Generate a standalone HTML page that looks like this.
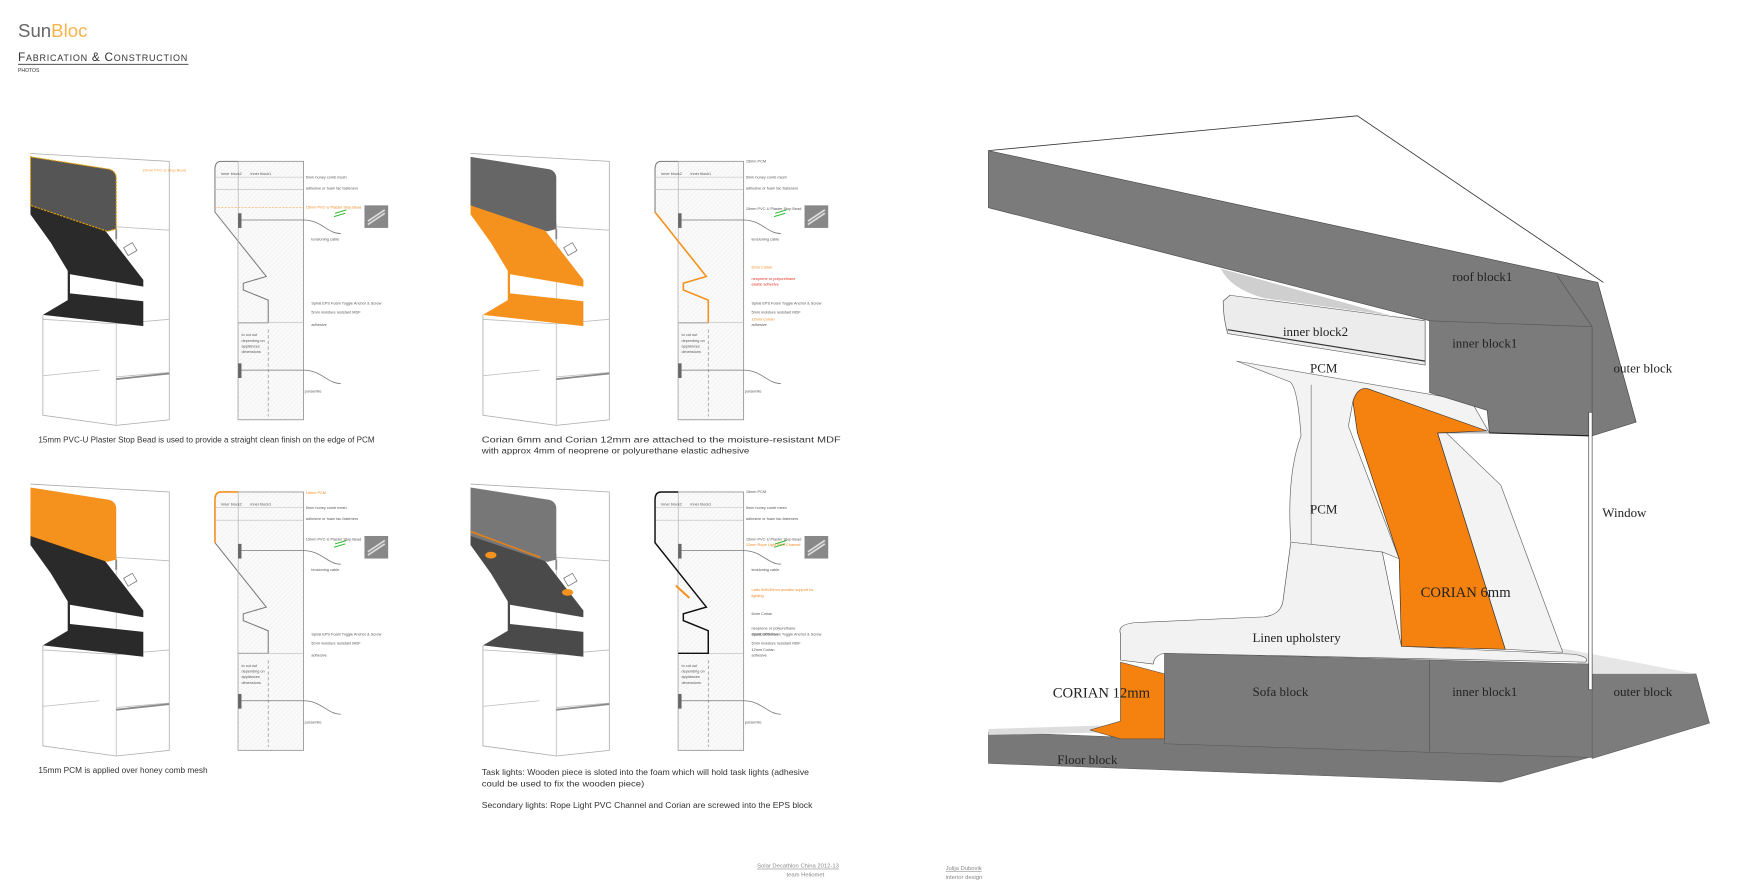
<!DOCTYPE html>
<html><head><meta charset="utf-8">
<style>
html,body{margin:0;padding:0;background:#fff;width:1758px;height:894px;overflow:hidden}
svg{display:block}
.s{font-family:"Liberation Sans",sans-serif}
.r{font-family:"Liberation Serif",serif;fill:#222}
</style></head><body>
<svg width="1758" height="894" viewBox="0 0 1558 792.3" preserveAspectRatio="none" xmlns="http://www.w3.org/2000/svg">
<defs>
<pattern id="hx" width="4" height="4" patternUnits="userSpaceOnUse"><rect width="4" height="4" fill="#fafafa"/><path d="M0 4L4 0" stroke="#e4e4e4" stroke-width="0.4"/></pattern>
<g id="box">
 <path d="M27 136 L150 143 L150 372 L103 377 L38 368 L38 279" fill="none" stroke="#aaa" stroke-width="0.7"/>
 <path d="M103 198 L103 377 M38 283 L103 287 L150 283 M38 333 L88 328 M103 334 L150 330 M88 200 L150 204" fill="none" stroke="#bbb" stroke-width="0.7"/>
 <path d="M103 203 L103 212 M103 336 L150 331" stroke="#888" stroke-width="1.6"/>
 <rect x="111" y="217" width="9" height="8" fill="none" stroke="#777" stroke-width="0.7" transform="rotate(-30 115 221)"/>
</g>
<g id="sec">
 <rect x="211" y="143" width="58" height="229" fill="url(#hx)" stroke="#999" stroke-width="0.8"/>
 <path d="M211 143 L196 143 Q190.5 143 190.5 150 L190.5 188 L236 245 L215.6 251 L215.6 257 L237.7 266 L237.7 286 L211 286" fill="url(#hx)" stroke="#777" stroke-width="0.9"/>
 <path d="M211 143 L211 372 M190 157 L269 157 M190 168 L269 168 M211 286 L269 286" stroke="#bbb" stroke-width="0.5" fill="none"/>
 <path d="M237.7 292 L237.7 369" stroke="#888" stroke-width="0.6" stroke-dasharray="3 2"/>
 <rect x="211" y="189" width="3" height="13" fill="#666"/>
 <rect x="211" y="322" width="3" height="13" fill="#666"/>
 <path d="M214 195 L269 195 C285 195 290 207 302 207 M214 328 L269 328 C285 328 290 340 302 340" stroke="#777" stroke-width="0.7" fill="none"/>
 <rect x="323" y="182" width="21" height="20" fill="#888"/>
 <path d="M326 196 L341 186 M326 199 L341 189" stroke="#ddd" stroke-width="1.5"/>
 <path d="M297 189 L307 186 M296 192 L306 189" stroke="#3b3" stroke-width="0.9"/>
 <g class="s" font-size="3.4" fill="#555">
  <text x="196" y="155">inner block2</text><text x="222" y="155">inner block1</text>
  <text x="271" y="158">5mm honey comb mesh</text>
  <text x="271" y="168">adhesive or foam tac fasteners</text>
  <text x="276" y="213">tensioning cable</text>
  <text x="276" y="270">Spiral EPS Foam Toggle Anchor &amp; Screw</text>
  <text x="276" y="278">5mm moisture resistant MDF</text>
  <text x="276" y="289">adhesive</text>
  <text x="214" y="298">to cut out</text><text x="214" y="303">depending on</text><text x="214" y="308">appliances</text><text x="214" y="313">dimensions</text>
  <text x="270" y="348">pursemite</text>
 </g>
</g>
</defs>

<!-- header -->
<text x="16" y="33" class="s" font-size="16.5" fill="#666">Sun<tspan fill="#f7b34a">Bloc</tspan></text>
<text x="16" y="54" class="s" font-size="10.5" fill="#333" textLength="150">F<tspan font-size="8">ABRICATION</tspan> &amp; C<tspan font-size="8">ONSTRUCTION</tspan></text>
<line x1="16" y1="57" x2="167" y2="57" stroke="#333" stroke-width="0.8"/>
<text x="16" y="64" class="s" font-size="4.5" fill="#333">PHOTOS</text>

<!-- Panel 1 -->
<g>
 <use href="#box"/>
 <path d="M27 173 L86 195 L127 248 L127 254 L62 243 L62 260 L127 267 L127 289 L38 279 L60 266 L60 240 L45 215 L27 190Z" fill="#2a2a2a"/>
 <path d="M27 139 L97 150 Q103 152 103 158 L103 203 L95 205 L27 182Z" fill="#555" stroke="#e8a000" stroke-width="1" stroke-dasharray="2 1"/>
 <text x="126" y="152" class="s" font-size="3.5" fill="#f0a040">15mm PVC-U Stop Bead</text>
 <use href="#sec"/>
 <line x1="190" y1="184" x2="269" y2="184" stroke="#f7a040" stroke-width="0.5" stroke-dasharray="2 1"/>
 <text x="271" y="185" class="s" font-size="3.4" fill="#f08a20">15mm PVC-U Plaster Stop Bead</text>
 <text x="34" y="392" class="s" font-size="7.6" fill="#333" textLength="298" lengthAdjust="spacingAndGlyphs">15mm PVC-U Plaster Stop Bead is used to provide a straight clean finish on the edge of PCM</text>
</g>

<!-- Panel 2 -->
<g transform="translate(390,0)">
 <use href="#box"/>
 <path d="M27 173 L86 195 L127 248 L127 254 L62 243 L62 260 L127 267 L127 289 L38 279 L60 266 L60 240 L45 215 L27 190Z" fill="#f5921e"/>
 <path d="M27 139 L97 150 Q103 152 103 158 L103 203 L95 205 L27 182Z" fill="#666"/>
 <use href="#sec"/>
 <path d="M190.5 188 L236 245 L215.6 251 L215.6 257 L237.7 266 L237.7 286" fill="none" stroke="#f5921e" stroke-width="1.4"/>
 <g class="s" font-size="3.4" fill="#555"><text x="271" y="144">15mm PCM</text><text x="271" y="186">15mm PVC-U Plaster Stop Bead</text></g>
 <g class="s" font-size="3.4" fill="#e03020"><text x="276" y="238" fill="#f08a20">6mm Corian</text><text x="276" y="248">neoprene or polyurethane</text><text x="276" y="253">elastic adhesive</text><text x="276" y="284" fill="#f08a20">12mm Corian</text></g>
 <text x="37" y="392" class="s" font-size="7.6" fill="#333" textLength="318" lengthAdjust="spacingAndGlyphs">Corian 6mm and Corian 12mm are attached to the moisture-resistant MDF</text>
 <text x="37" y="402" class="s" font-size="7.6" fill="#333" textLength="237" lengthAdjust="spacingAndGlyphs">with approx 4mm of  neoprene or polyurethane elastic adhesive</text>
</g>

<!-- Panel 3 -->
<g transform="translate(0,293)">
 <use href="#box"/>
 <path d="M27 173 L86 195 L127 248 L127 254 L62 243 L62 260 L127 267 L127 289 L38 279 L60 266 L60 240 L45 215 L27 190Z" fill="#2a2a2a"/>
 <path d="M27 139 L97 150 Q103 152 103 158 L103 203 L95 205 L27 182Z" fill="#f5921e"/>
 <use href="#sec"/>
 <path d="M211 143 L196 143 Q190.5 143 190.5 150 L190.5 188" fill="none" stroke="#f5921e" stroke-width="1.4"/>
 <text x="271" y="145" class="s" font-size="3.4" fill="#f08a20">15mm PCM</text>
 <text x="271" y="186" class="s" font-size="3.4" fill="#555">15mm PVC-U Plaster Stop Bead</text>
 <text x="34" y="392" class="s" font-size="7.6" fill="#333" textLength="150" lengthAdjust="spacingAndGlyphs">15mm PCM is applied over honey comb mesh</text>
</g>

<!-- Panel 4 -->
<g transform="translate(390,293)">
 <use href="#box"/>
 <path d="M27 173 L86 195 L127 248 L127 254 L62 243 L62 260 L127 267 L127 289 L38 279 L60 266 L60 240 L45 215 L27 190Z" fill="#4a4a4a"/>
 <path d="M27 139 L97 150 Q103 152 103 158 L103 203 L95 205 L27 182Z" fill="#777"/>
 <path d="M27 178 L89 201" stroke="#e08020" stroke-width="1.5"/>
 <ellipse cx="45" cy="199" rx="5" ry="3" fill="#f5921e"/>
 <ellipse cx="113" cy="232" rx="5" ry="3" fill="#f5921e"/>
 <use href="#sec"/>
 <path d="M211 143 L196 143 Q190.5 143 190.5 150 L190.5 188 L236 245 L215.6 251 L215.6 257 L237.7 266 L237.7 286 L211 286" fill="none" stroke="#111" stroke-width="1.3"/>
 <path d="M209 226 L221 237" stroke="#f5921e" stroke-width="1.8"/>
 <g class="s" font-size="3.4" fill="#555"><text x="271" y="144">15mm PCM</text><text x="271" y="186">15mm PVC-U Plaster Stop Bead</text><text x="276" y="252">6mm Corian</text><text x="276" y="265">neoprene or polyurethane</text><text x="276" y="270">elastic adhesive</text><text x="276" y="284">12mm Corian</text></g>
 <g class="s" font-size="3.4" fill="#f08a20"><text x="271" y="191">12mm Rope Light PVC Channel</text><text x="276" y="231">Lattu 5x5x30mm wooden support for</text><text x="276" y="236">lighting</text></g>
 <text x="37" y="394" class="s" font-size="7.6" fill="#333" textLength="290" lengthAdjust="spacingAndGlyphs">Task lights: Wooden piece is sloted into the foam which will hold task lights (adhesive</text>
 <text x="37" y="404" class="s" font-size="7.6" fill="#333" textLength="144" lengthAdjust="spacingAndGlyphs">could be used to fix the wooden piece)</text>
 <text x="37" y="423" class="s" font-size="7.6" fill="#333" textLength="293" lengthAdjust="spacingAndGlyphs">Secondary lights:  Rope Light PVC Channel and Corian are screwed into the EPS block</text>
</g>

<!-- Big drawing -->
<g stroke-linejoin="round" transform="translate(0,88.7) scale(1,0.8717) translate(0,-88.6)">
 <path d="M876 140 L1203 104.6 L1421 274" fill="none" stroke="#333" stroke-width="0.8"/>
 <path d="M876 731 L1032 738 L1411 756 L1330 782 L876 763Z" fill="#787878" stroke="#555" stroke-width="0.5"/>
 <path d="M876 728 L993 724 L1000 731 L876 734Z" fill="#ddd"/>
 <path d="M1405 660 L1503 672 L1515 722 L1411 758Z" fill="#7c7c7c" stroke="#555" stroke-width="0.5"/>
 <path d="M1380 645 L1503 672 L1411 672 Z" fill="#e6e6e6"/>
 <path d="M1032 651 L1411 662 L1411 757 L1032 743Z" fill="#7b7b7b" stroke="#555" stroke-width="0.5"/>
 <line x1="1267" y1="658" x2="1267" y2="751" stroke="#555" stroke-width="0.6"/>
 <path d="M993 631 Q990 622 1005 620 L1120 614 Q1135 612 1137 598 L1144 538 L1225 548 L1242 644 L1395 652 Q1410 655 1405 660 L1032 651 Q1023 653 1022 662 L993 658Z" fill="#f2f2f2" stroke="#555" stroke-width="0.6"/>
 <path d="M1096 354 L1304 395 L1320 427 L1274 427 L1334 647 L1385 650 L1330 480 L1280 425 L1200 400 L1199 395 L1195 420 L1240 555 L1225 548 L1144 538 Q1140 470 1153 430 Q1150 380 1143 375 Z" fill="#f3f3f3" stroke="#666" stroke-width="0.6"/>
 <path d="M1162 378 L1162 540" stroke="#777" stroke-width="0.6"/>
 <path d="M876 140 L1416 274 L1450 416 L1411 430 L1320 427 L1318 404 L1267 386 L1267 313 L876 198Z" fill="#7b7b7b" stroke="#444" stroke-width="0.6"/>
 <path d="M1380 267 L1411 319 L1411 430 M1267 313 L1411 319" stroke="#555" stroke-width="0.6" fill="none"/>
 <path d="M1082 260 Q1090 280 1120 290 L1267 313 L1240 310 Z" fill="#cfcfcf"/>
 <path d="M1090 287 L1263 313 L1263 358 L1088 326 Q1084 310 1084 293Z" fill="#ececec" stroke="#555" stroke-width="0.6"/>
 <path d="M1088 322 L1263 354" stroke="#333" stroke-width="1.2"/>
 <path d="M1199 395 Q1203 380 1212 382 L1318 425 L1274 427 L1334 647 L1242 644 L1240 555 L1203 427Z" fill="#f5820f" stroke="#333" stroke-width="0.6"/>
 <path d="M993 660 L1032 672 L1032 738 L993 738 L966 729 L993 720Z" fill="#f5820f" stroke="#444" stroke-width="0.5"/>
 <path d="M1320 427 L1411 430" stroke="#222" stroke-width="1.2"/>
 <rect x="1408" y="406" width="3" height="282" fill="#fff" stroke="#444" stroke-width="0.6"/>
</g>
<g class="r" font-size="11.5">
 <text x="1287" y="249">roof block1</text>
 <text x="1137" y="298">inner block2</text>
 <text x="1287" y="308">inner block1</text>
 <text x="1430" y="330">outer block</text>
 <text x="1161" y="330">PCM</text>
 <text x="1161" y="455">PCM</text>
 <text x="1420" y="458">Window</text>
 <text x="1259" y="529" font-size="13">CORIAN 6mm</text>
 <text x="1110" y="569">Linen upholstery</text>
 <text x="933" y="618" font-size="13">CORIAN 12mm</text>
 <text x="1110" y="617">Sofa block</text>
 <text x="1287" y="617">inner block1</text>
 <text x="1430" y="617">outer block</text>
 <text x="937" y="677">Floor block</text>
</g>

<!-- footer -->
<g class="s" font-size="5.2" fill="#888">
 <text x="671" y="769" text-decoration="underline">Solar Decathlon China 2012-13</text>
 <text x="697" y="777">team Heliomet</text>
 <text x="838" y="771" text-decoration="underline">Julija Dubovik</text>
 <text x="838" y="779">interior design</text>
</g>
</svg>
</body></html>
